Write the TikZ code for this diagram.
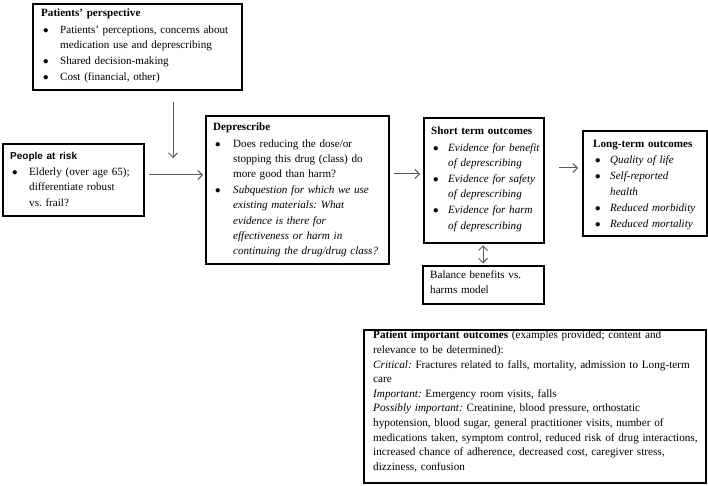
\documentclass[tikz,border=0pt]{standalone}
\usepackage{fontspec}
\setmainfont{Liberation Serif}
\newfontfamily\arialf{Liberation Sans}
\usetikzlibrary{arrows.meta}
\frenchspacing
\newcommand\nl{\break}
\newcommand\bul[2][19pt]{\par\vspace{1pt}\hangindent=#1\hangafter=1\noindent\hspace*{2pt}\makebox[\dimexpr#1-2pt\relax][l]{$\bullet$}#2\par}
\tikzset{
  box/.style={draw=black, line width=1.8pt, anchor=north west, inner sep=0pt},
  txt/.style={anchor=north west, inner sep=0pt, align=left,
    font=\frenchspacing\fontsize{11.1}{15.2}\selectfont},
  arr/.style={draw=black!65, line width=1pt, -{Straight Barb[length=4.5pt,width=9pt]}},
  darr/.style={draw=black!65, line width=1pt, {Straight Barb[length=4.5pt,width=9pt]}-{Straight Barb[length=4.5pt,width=9pt]}}
}
\begin{document}
\begin{tikzpicture}[x=1pt,y=-1pt]
\useasboundingbox (0,0) rectangle (708,486);
% boxes
\node[box, minimum width=209pt, minimum height=86pt] (pp) at (32,3) {};
\node[box, minimum width=141pt, minimum height=72pt] (par) at (2,143) {};
\node[box, minimum width=183pt, minimum height=148pt] (dep) at (205,115) {};
\node[box, minimum width=120pt, minimum height=125pt] (st) at (423,117) {};
\node[box, minimum width=124pt, minimum height=105pt] (lt) at (582,130) {};
\node[box, minimum width=121pt, minimum height=38pt] (bal) at (422,265) {};
\node[box, minimum width=342pt, minimum height=153pt] (pio) at (363,329) {};
% texts
\node[txt, text width=205pt, xshift=9pt, yshift=-6pt] (pptext) at (pp.north west) {%
\textbf{Patients’ perspective}
\bul{Patients’ perceptions, concerns about\nl medication use and deprescribing}
\bul{Shared decision-making}
\bul{Cost (financial, other)}};
\node[txt, text width=140pt, xshift=8pt, yshift=-9pt] (partext) at (par.north west) {%
{\arialf\bfseries\fontsize{10}{12}\selectfont People at risk}
\bul{Elderly (over age 65);\nl differentiate robust\nl vs. frail?}};
\node[txt, text width=185pt, xshift=8pt, yshift=-8pt] (deptext) at (dep.north west) {%
\textbf{Deprescribe}
\bul[20pt]{Does reducing the dose/or\nl stopping this drug (class) do\nl more good than harm?}
\bul[20pt]{\itshape Subquestion for which we use\nl existing materials: What\nl evidence is there for\nl effectiveness or harm in\nl continuing the drug/drug class?}};
\node[txt, text width=125pt, xshift=8pt, yshift=-10pt] (sttext) at (st.north west) {%
\textbf{Short term outcomes}
\bul[17pt]{\itshape Evidence for benefit\nl of deprescribing}
\bul[17pt]{\itshape Evidence for safety\nl of deprescribing}
\bul[17pt]{\itshape Evidence for harm\nl of deprescribing}};
\node[txt, text width=125pt, xshift=11pt, yshift=-10pt] (lttext) at (lt.north west) {%
\textbf{Long-term outcomes}
\bul[17pt]{\itshape Quality of life}
\bul[17pt]{\itshape Self-reported\nl health}
\bul[17pt]{\itshape Reduced morbidity}
\bul[17pt]{\itshape Reduced mortality}};
\node[txt, text width=125pt, xshift=8pt, yshift=-5pt] (baltext) at (bal.north west) {%
Balance benefits vs.\\harms model};
\node[txt, text width=340pt, xshift=10pt, yshift=-2pt,
  font=\frenchspacing\fontsize{11.2}{14.6}\selectfont] (piotext) at (pio.north west) {%
\textbf{Patient important outcomes} (examples provided; content and\\
relevance to be determined):\\
\textit{Critical:} Fractures related to falls, mortality, admission to Long-term\\
care\\
\textit{Important:} Emergency room visits, falls\\
\textit{Possibly important:} Creatinine, blood pressure, orthostatic\\
hypotension, blood sugar, general practitioner visits, number of\\
medications taken, symptom control, reduced risk of drug interactions,\\
increased chance of adherence, decreased cost, caregiver stress,\\
dizziness, confusion};
% connectors
\coordinate (va1) at (173,102);
\coordinate (va2) at (173,158);
\draw[arr] (va1) -- (va2);
\coordinate (y1) at (0,175);
\coordinate (y2) at (0,174);
\coordinate (y3) at (0,168);
\coordinate (x4) at (483,0);
\draw[arr, shorten <=4pt, shorten >=2pt] (par.east |- y1) -- (dep.west |- y1);
\draw[arr, shorten <=4pt, shorten >=3pt] (dep.east |- y2) -- (st.west |- y2);
\draw[arr, shorten <=14pt, shorten >=4pt] (st.east |- y3) -- (lt.west |- y3);
\draw[darr, shorten <=1.5pt, shorten >=1.5pt] (x4 |- st.south) -- (x4 |- bal.north);
\end{tikzpicture}
\end{document}
